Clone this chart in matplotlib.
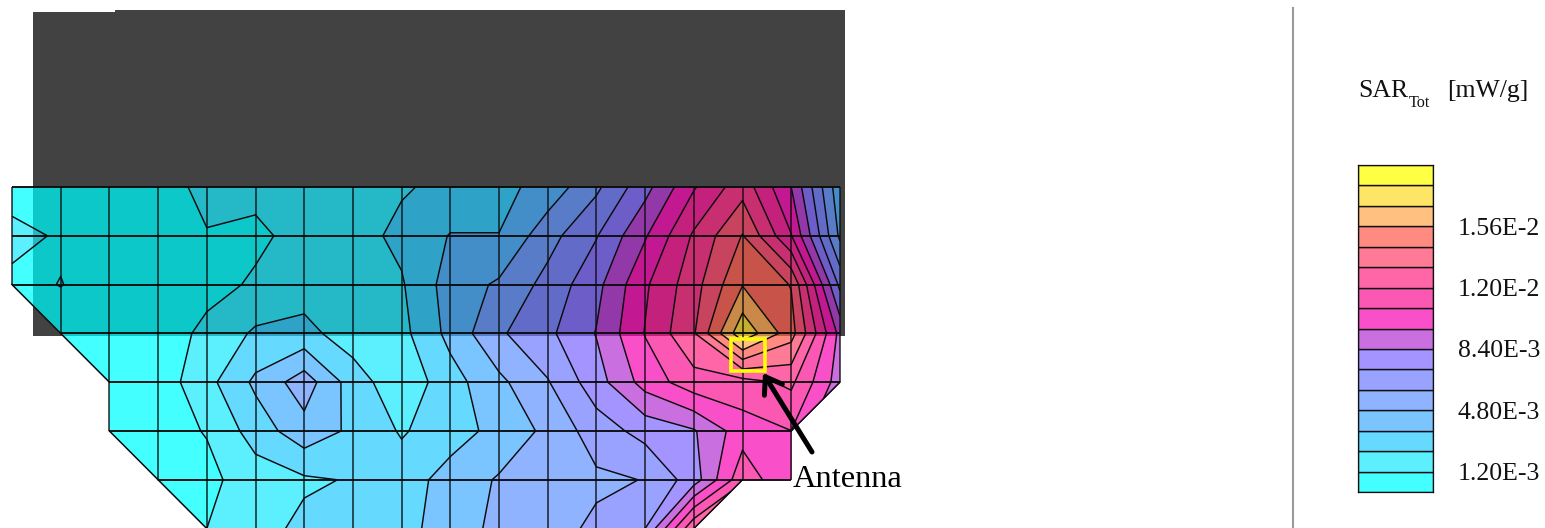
"""
SAR distribution over the measurement grid, with the antenna position marked
"""

import numpy as np
import matplotlib
matplotlib.use('Agg')
import matplotlib.pyplot as plt
from matplotlib.colors import to_rgb
from matplotlib.patches import Rectangle

nan = np.nan

# SAR at the grid nodes, in steps of 1.2E-3 mW/g (one step = one colour band)
sar_row0 = [0.4, 0.5, 0.55, 0.6, 1.25, 1.2, 1.5, 1.6, 1.9, 2.25, 2.7, 3.37, 4.8, 6.65, 8.9, 10.6, 8.0, 3.3]
sar_row1 = [1.4, 0.85, 0.55, 0.6, 0.95, 0.85, 1.25, 1.6, 2.25, 3.05, 3.02, 4.62, 5.94, 7.9, 10.15, 12.05, 9.05, 3.8]
sar_row2 = [0.7, 1.03, 0.55, 0.6, 0.75, 1.1, 1.55, 1.7, 1.9, 3.45, 4.15, 5.33, 6.7, 8.85, 10.6, 12.95, 11.95, 5.75]
sar_row3 = [nan, 0.4, 0.5, 0.55, 1.2, 2.16, 2.3, 1.5, 1.7, 3.3, 4.85, 5.78, 7.05, 9.05, 10.9, 14.75, 12.4, 7.7]
sar_row4 = [nan, nan, 0.3, 0.43, 1.68, 3.2, 4.53, 2.5, 1.3, 2.58, 3.77, 4.93, 6.57, 8.4, 9.6, 9.6, 10.2, 7.5]
sar_row5 = [nan, nan, 0.3, 0.65, 1.05, 2.45, 3.63, 2.8, 1.9, 2.56, 3.31, 4.23, 5.5, 6.35, 6.9, 8.55, 8.99, nan]
sar_row6 = [nan, nan, nan, 0.5, 0.75, 1.5, 1.85, 2.07, 2.5, 3.4, 4.1, 4.4, 4.82, 5.03, 6.5, 9.7, 8.0, nan]
sar_row7 = [nan, nan, nan, nan, 1.0, 1.6, 2.25, 2.4, 2.65, 3.5, 4.25, 4.6, 5.2, 6.0, 10.9, nan, nan, nan]

band_colors = ['#44ffff', '#5cf0ff', '#66d9ff', '#7ac4ff', '#8fb3ff', '#99a3ff', '#a394ff', '#c96fe0',
               '#f94fc8', '#fb58b4', '#ff66a8', '#ff7a94', '#ff8a80', '#ffc080', '#ffe566', '#ffff44']

tick_values = [1.2e-3, 4.8e-3, 8.4e-3, 1.2e-2, 1.56e-2]
tick_labels = ['1.20E-3', '4.80E-3', '8.40E-3', '1.20E-2', '1.56E-2']

SAR_STEP = 1.2e-3
SERIF = 'Liberation Serif'
LINE = '#0c0c0c'

sar = np.ma.masked_invalid(np.array([sar_row0, sar_row1, sar_row2, sar_row3,
                                     sar_row4, sar_row5, sar_row6, sar_row7]) * SAR_STEP)
levels = np.arange(len(band_colors) + 1) * SAR_STEP

fig = plt.figure(figsize=(15.45, 5.28), dpi=100)
ax = fig.add_axes([0, 0, 1, 1])
ax.set_xlim(0, 1545)
ax.set_ylim(528, 0)
ax.axis('off')

# Grid nodes in picture pixels
n_rows, n_cols = sar.shape
x = 12 + 48.7 * np.arange(n_cols)
y = 187 + 48.8 * np.arange(n_rows)

# Dark block behind the upper part of the grid (its top edge has a small step)
ax.add_patch(Rectangle((33, 12), 812, 324, facecolor='#424242', edgecolor='none', zorder=1))
ax.add_patch(Rectangle((115, 10), 730, 4, facecolor='#424242', edgecolor='none', zorder=1))

ax.contourf(x, y, sar, levels=levels, colors=band_colors, zorder=2)

# The part over the block comes out darker
dark_colors = [tuple(np.clip(np.array(to_rgb(c)) - 55 / 255, 0, 1)) for c in band_colors]
clip_box = Rectangle((33, 12), 812, 324, transform=ax.transData)
dark = ax.contourf(x, y, sar, levels=levels, colors=dark_colors, zorder=3)
dark.set_clip_path(clip_box)

ax.contour(x, y, sar, levels=levels[1:-1], colors=LINE, linewidths=1.05, zorder=4)

# Mesh lines between neighbouring valid nodes
valid = ~np.ma.getmaskarray(sar)
for r in range(n_rows):
    for c in range(n_cols):
        if not valid[r, c]:
            continue
        if c + 1 < n_cols and valid[r, c + 1] and r < n_rows - 1:
            ax.plot(x[[c, c + 1]], y[[r, r]], color=LINE, lw=1.35, zorder=5, solid_capstyle='butt')
        if r + 1 < n_rows and valid[r + 1, c]:
            ax.plot(x[[c, c]], y[[r, r + 1]], color=LINE, lw=1.15, alpha=0.85, zorder=5, solid_capstyle='butt')

# Cut corners of the mesh outline
for r in range(n_rows - 1):
    for c in range(n_cols - 1):
        if valid[r:r + 2, c:c + 2].sum() == 3:
            if not valid[r, c] or not valid[r + 1, c + 1]:
                ax.plot(x[[c, c + 1]], y[[r + 1, r]], color=LINE, lw=1.1, zorder=5)
            else:
                ax.plot(x[[c, c + 1]], y[[r, r + 1]], color=LINE, lw=1.1, zorder=5)

# Antenna marker
ax.add_patch(Rectangle((731, 339), 34, 32, facecolor='none', edgecolor='#ffff00', lw=2.6, zorder=6))
ax.annotate('', xy=(763, 373), xytext=(812, 452), zorder=7,
            arrowprops=dict(arrowstyle='->,head_length=0.55,head_width=0.38', color='black',
                            lw=3.6, mutation_scale=20, shrinkA=0, shrinkB=0))
ax.text(793, 487, 'Antenna', family=SERIF, fontsize=23.3, va='baseline', ha='left', color='black', zorder=7)

# Separator
ax.plot([1293, 1293], [8, 528], color='#9a9a9a', lw=1.5, zorder=1)

# Legend title
ax.text(1358, 97, 'SAR', family=SERIF, fontsize=18.5, va='baseline', ha='left', color='#111111')
ax.text(1409, 107, 'Tot', family=SERIF, fontsize=11.6, va='baseline', ha='left', color='#111111')
ax.text(1447, 97, '[mW/g]', family=SERIF, fontsize=18.5, va='baseline', ha='left', color='#111111')

# Colour scale
cax = fig.add_axes([1358 / 1545, 1 - 492 / 528, 75 / 1545, 327 / 528])
cax.barh(levels[:-1], np.ones(len(band_colors)), height=SAR_STEP, align='edge',
         color=band_colors, edgecolor='#101010', linewidth=1.0)
cax.set_xlim(0, 1)
cax.set_ylim(levels[0], levels[-1])
cax.set_xticks([])
cax.yaxis.tick_right()
cax.set_yticks(tick_values)
cax.set_yticklabels(tick_labels, family=SERIF, fontsize=18.5, ha='right', color='#111111')
cax.tick_params(axis='y', length=0, pad=77)
for spine in cax.spines.values():
    spine.set_linewidth(0.9)
    spine.set_color('#101010')

plt.savefig('out.png', dpi=100)
